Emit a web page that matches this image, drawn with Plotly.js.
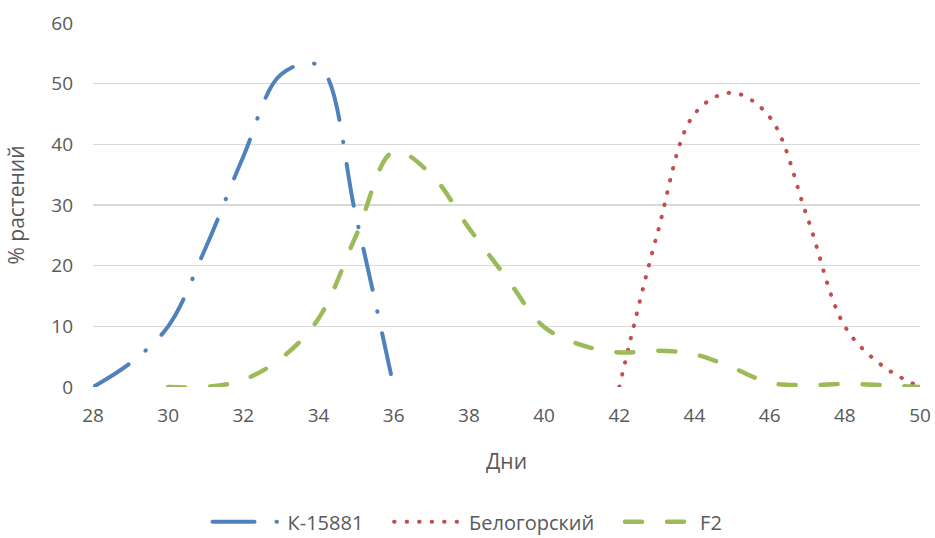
<!DOCTYPE html>
<html>
<head>
<meta charset="utf-8">
<script src="https://cdn.plot.ly/plotly-3.0.1.min.js"></script>
<style>
html,body{margin:0;padding:0;background:#fff;}
#chart{width:935px;height:538px;}
.js-line{stroke-linecap:round !important;}
</style>
</head>
<body>
<div id="chart"></div>
<script>
// Days
const daysK = [28, 29, 30, 31, 32, 33, 34, 35, 36];
const valsK = [0, 4, 10, 23, 38, 51.5, 53, 28, 0];

const daysB = [42, 43, 44, 45, 46, 47, 48, 49, 50];
const valsB = [0, 25, 45, 48.5, 44.5, 28, 10, 3.5, 0];

const daysF = [30, 31, 32, 33, 34, 35, 36, 37, 38, 39, 40, 41, 42, 43, 44, 45, 46, 47, 48, 49, 50];
const valsF = [0, 0, 1.2, 4.7, 11.3, 25, 38.8, 35, 26.2, 18, 9.9, 6.9, 5.7, 6, 5.4, 3.2, 0.7, 0.3, 0.5, 0.3, 0];

const seriesNames = ['К-15881', 'Белогорский', 'F2'];
const xTicks = [28, 30, 32, 34, 36, 38, 40, 42, 44, 46, 48, 50];
const yTicks = [0, 10, 20, 30, 40, 50, 60];

const fontFam = '"Open Sans", "Noto Sans", sans-serif';
const gray = '#595959';
const pad = '\u00a0\u00a0\u00a0\u00a0';

const traces = [
  {x: daysK, y: valsK, name: seriesNames[0] + pad, mode: 'lines',
   line: {color: '#4f81bd', width: 4, shape: 'spline', smoothing: 1, dash: '42px,22px,0.5px,22px'}},
  {x: daysB, y: valsB, name: seriesNames[1] + pad, mode: 'lines',
   line: {color: '#c0504d', width: 4, shape: 'spline', smoothing: 1, dash: '0.5px,12px'}},
  {x: daysF, y: valsF, name: seriesNames[2], mode: 'lines',
   line: {color: '#9bbb59', width: 4.5, shape: 'spline', smoothing: 1, dash: '17px,25px'}}
];

const layout = {
  width: 935, height: 538,
  margin: {l: 93, r: 15, t: 23, b: 151},
  paper_bgcolor: '#fff', plot_bgcolor: '#fff',
  font: {family: fontFam, size: 19, color: gray},
  showlegend: true,
  legend: {orientation: 'h', xref: 'container', yref: 'container', x: 0.5, xanchor: 'center',
           y: 0.03, yanchor: 'middle', font: {size: 20, color: gray}, itemwidth: 70},
  xaxis: {range: [28, 50], tickvals: xTicks, ticktext: xTicks.map(String), showgrid: false,
          zeroline: false, showline: false, ticks: '', ticklabelstandoff: 15,
          tickfont: {size: 19, color: gray},
          title: {text: 'Дни', font: {size: 21, color: gray}, standoff: 27}},
  yaxis: {range: [0, 60], tickvals: yTicks, ticktext: yTicks.map(String), showgrid: true,
          gridcolor: '#d9d9d9', gridwidth: 1.3, zeroline: false, showline: false, ticks: '',
          ticklabelstandoff: 19, tickfont: {size: 19, color: gray},
          title: {text: '% растений', font: {size: 21, color: gray}, standoff: 20}}
};

Plotly.newPlot('chart', traces, layout, {displayModeBar: false, staticPlot: true});
</script>
</body>
</html>
